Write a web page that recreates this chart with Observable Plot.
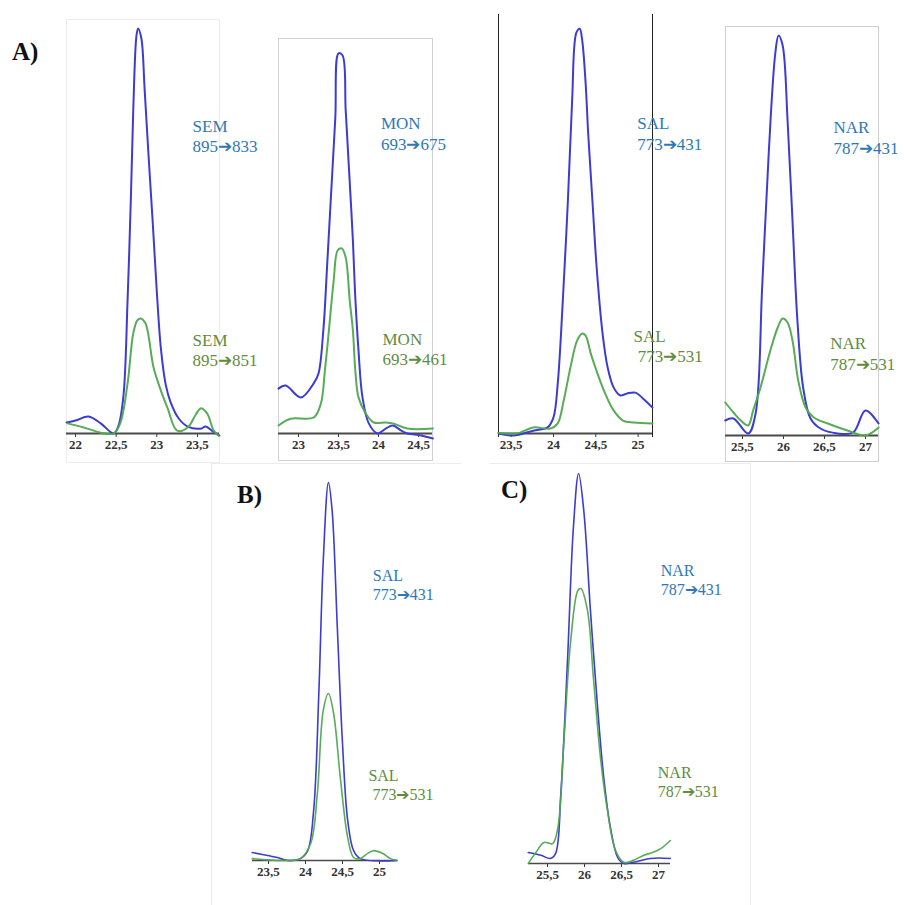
<!DOCTYPE html>
<html>
<head>
<meta charset="utf-8">
<script src="https://cdn.jsdelivr.net/npm/d3@7"></script>
<script src="https://cdn.jsdelivr.net/npm/@observablehq/plot@0.6"></script>
<style>
  html, body { margin: 0; padding: 0; background: #fff; overflow: hidden; }
  #fig { position: relative; width: 904px; height: 905px; background: #fff; }
  .frame { position: absolute; box-sizing: border-box; }
  .tag { position: absolute; font-family: "Liberation Serif", "Times New Roman", serif; font-weight: bold; font-size: 25px; line-height: 1; color: #111; }
  .slot { position: absolute; }
  .slot svg g[aria-label^="x-axis"] text { font-size: 13px !important; font-weight: bold; fill: #333; }
</style>
</head>
<body>
<div id="fig"></div>
<script>
// ---- data: [retention time (min), relative intensity (%)] ----
const semBlue = [[21.89,2.7],[22.00,3.2],[22.16,4.2],[22.31,2.5],[22.47,0],[22.53,2.0],[22.59,9.4],[22.64,32.8],[22.68,57.5],[22.71,79.8],[22.75,98.3],[22.77,100],[22.81,97.5],[22.85,85],[22.90,68],[22.95,52],[23.00,35],[23.05,21],[23.11,12],[23.17,7.7],[23.27,3.7],[23.38,1.7],[23.54,1.2],[23.60,1.7],[23.69,0.5],[23.77,-0.5]];
const semGreen = [[21.90,2.5],[22.10,1.5],[22.31,0.2],[22.47,0],[22.55,2.5],[22.64,12.3],[22.71,24.7],[22.76,27.9],[22.80,28.4],[22.86,27.2],[22.96,16.3],[23.05,10.6],[23.13,6.4],[23.25,0.7],[23.38,1.5],[23.48,4.7],[23.54,6.2],[23.62,4.9],[23.70,0.7],[23.76,-0.5]];
const monBlue = [[22.75,11.8],[22.84,12.6],[23.03,9.5],[23.19,13.2],[23.25,15.8],[23.31,27],[23.36,45],[23.41,64],[23.46,83],[23.50,100],[23.55,99.5],[23.59,85],[23.63,70],[23.68,50.8],[23.71,35.8],[23.75,21.8],[23.80,9.5],[23.88,2.6],[23.99,0],[24.09,1.3],[24.18,2.1],[24.28,0.8],[24.36,0],[24.53,-0.5],[24.68,-1.3]];
const monGreen = [[22.75,2.1],[22.90,3.9],[23.19,4.2],[23.28,7.9],[23.33,16.6],[23.38,27.1],[23.44,40.3],[23.49,48.2],[23.54,48.7],[23.59,46.3],[23.64,35],[23.68,27.1],[23.71,16.6],[23.75,9.5],[23.84,5.3],[23.94,2.9],[24.09,2.9],[24.19,2.6],[24.36,1.3],[24.68,1.3]];
const salBlue = [[23.35,0],[23.53,-0.5],[23.76,0.7],[23.93,1.5],[24.00,4],[24.05,12.3],[24.11,32.8],[24.17,57.5],[24.22,82.2],[24.27,99],[24.31,100],[24.34,97],[24.38,86.4],[24.41,74.1],[24.46,57.5],[24.51,41],[24.58,24.7],[24.64,16.3],[24.71,11.4],[24.79,9.4],[24.87,9.9],[24.97,10.1],[25.06,8.6],[25.17,6.4]];
const salGreen = [[23.35,0.2],[23.57,0],[23.76,1.5],[23.96,1.2],[24.05,2.5],[24.12,8.1],[24.20,16.3],[24.28,23],[24.34,24.7],[24.38,24.2],[24.44,19.8],[24.52,14.8],[24.61,9.9],[24.71,5.7],[24.82,3.2],[24.95,2.7],[25.17,2.5]];
const narBlue = [[25.29,3.75],[25.39,4.25],[25.57,0.5],[25.66,5.5],[25.74,37],[25.82,70.5],[25.90,95.5],[25.94,100],[25.99,97.5],[26.05,78.75],[26.11,53.75],[26.17,28.75],[26.24,12],[26.33,4.25],[26.45,1.75],[26.66,0.5],[26.85,0.75],[27.00,6.25],[27.16,3]];
const narGreen = [[25.29,8.25],[25.39,5.75],[25.48,3.75],[25.57,2.5],[25.63,6.25],[25.72,12],[25.84,21.25],[25.93,27],[25.99,29.25],[26.05,28.25],[26.11,23.75],[26.18,13.75],[26.27,7],[26.37,4.5],[26.54,3],[26.78,1.25],[27.00,0],[27.16,2]];
const bSalBlue = [[23.28,2.1],[23.49,1.3],[23.62,0.8],[23.76,0],[23.93,0.5],[24.03,2.6],[24.11,13.2],[24.18,44.2],[24.24,79.4],[24.31,100],[24.36,92.6],[24.43,61.6],[24.50,31],[24.57,10.6],[24.65,2.6],[24.74,0.5],[25.24,0]];
const bSalGreen = [[23.28,0.5],[23.70,0],[23.93,0.5],[24.07,4.5],[24.16,17.7],[24.24,39.7],[24.31,44.2],[24.38,38.9],[24.47,22],[24.57,6.1],[24.65,0.8],[24.74,0.5],[24.84,1.9],[24.92,2.6],[25.04,1.9],[25.15,0.5],[25.24,0]];
const cNarBlue = [[25.24,2.8],[25.41,2.1],[25.54,1.3],[25.61,2.6],[25.68,17.9],[25.77,52],[25.85,86.2],[25.92,100],[25.99,90.5],[26.08,64.9],[26.18,39.2],[26.26,22],[26.35,9.2],[26.45,1.5],[26.53,0],[26.66,0.3],[26.89,1.3],[27.16,1.3]];
const cNarGreen = [[25.24,0],[25.36,3.3],[25.45,5.4],[25.57,5.1],[25.64,9.2],[25.72,30.8],[25.81,56.4],[25.91,70],[25.95,70.5],[26.04,64.9],[26.12,47.7],[26.22,26.4],[26.31,13.6],[26.42,3.3],[26.53,0.3],[26.66,0.8],[26.80,2.1],[26.92,2.8],[27.03,3.8],[27.16,5.9]];

const compounds = ["SEM", "MON", "SAL", "NAR", "SAL", "NAR"];
const quantTransitions = ["895\u2794833", "693\u2794675", "773\u2794431", "787\u2794431", "773\u2794431", "787\u2794431"];
const qualTransitions = ["895\u2794851", "693\u2794461", "773\u2794531", "787\u2794531", "773\u2794531", "787\u2794531"];
const indentQual = [false, false, true, false, true, false];
// label anchor positions [RT, intensity]
const quantLabelPos = [[23.44,73.5],[24.03,79.1],[24.99,74.2],[26.61,74.6],[24.91,73.1],[27.03,72.8]];
const qualLabelPos = [[23.44,20.7],[24.05,22.4],[24.946,21.7],[26.57,20.6],[24.85,20.1],[26.99,21.0]];
const tickSets = [[22,22.5,23,23.5],[23,23.5,24,24.5],[23.5,24,24.5,25],[25.5,26,26.5,27],[23.5,24,24.5,25],[25.5,26,26.5,27]];
const xDomains = [[21.889,23.771],[22.75,24.675],[23.35,25.17],[25.293,27.159],[23.284,25.243],[25.243,27.162]];
const yMaxes = [102.2, 103.9, 103.5, 102.25, 103.2, 102.05];
const seriesBlue = [semBlue, monBlue, salBlue, narBlue, bSalBlue, cNarBlue];
const seriesGreen = [semGreen, monGreen, salGreen, narGreen, bSalGreen, cNarGreen];

// ---- layout (pixels) ----
const layout = [
  {left: 66,  top: 19,  w: 153, extra: 50, plotH: 414, lw: 2.0, fs: 17, axisW: 2},
  {left: 278, top: 38,  w: 154, extra: 30, plotH: 395, lw: 2.0, fs: 17, axisW: 2},
  {left: 498, top: 14,  w: 154, extra: 60, plotH: 419, lw: 2.0, fs: 17, axisW: 2},
  {left: 725, top: 26,  w: 153, extra: 25, plotH: 409, lw: 2.0, fs: 17, axisW: 2},
  {left: 252, top: 470, w: 145, extra: 50, plotH: 390, lw: 1.6, fs: 16, axisW: 1.6},
  {left: 528, top: 465, w: 142, extra: 60, plotH: 398, lw: 1.6, fs: 16, axisW: 1.6}
];

const fig = document.getElementById("fig");

// panel frames (screenshot borders)
const frames = [
  {left: 66, top: 19, width: 154, height: 444, border: "1px solid #ededed"},
  {left: 278, top: 38, width: 155, height: 423, border: "1px solid #d2d2d2"},
  {left: 498, top: 14, width: 155, height: 423, borderLeft: "1px solid #222", borderRight: "1px solid #222"},
  {left: 725, top: 26, width: 154, height: 436, border: "1px solid #cfcfcf"},
  {left: 211, top: 463, width: 250, height: 442, borderLeft: "1px solid #ececec", borderTop: "1px solid #ececec"},
  {left: 490, top: 463, width: 261, height: 442, borderRight: "1px solid #ececec", borderTop: "1px solid #ececec"}
];
for (const f of frames) {
  const d = document.createElement("div");
  d.className = "frame";
  d.style.left = f.left + "px"; d.style.top = f.top + "px";
  d.style.width = f.width + "px"; d.style.height = f.height + "px";
  if (f.border) d.style.border = f.border;
  if (f.borderLeft) d.style.borderLeft = f.borderLeft;
  if (f.borderRight) d.style.borderRight = f.borderRight;
  if (f.borderTop) d.style.borderTop = f.borderTop;
  fig.appendChild(d);
}

const fmt = d => String(d).replace(".", ",");
const blueLine = "#3c3cd2";
const greenLine = "#4fa84f";
const blueText = "#2f78b8";
const greenText = "#5f8c3e";

for (let i = 0; i < 6; i++) {
  const L = layout[i];
  const mb = 26;
  const labels = [
    {x: quantLabelPos[i][0], y: quantLabelPos[i][1], t: compounds[i] + "\n" + quantTransitions[i], c: blueText},
    {x: qualLabelPos[i][0], y: qualLabelPos[i][1], t: compounds[i] + "\n" + (indentQual[i] ? "\u00a0" : "") + qualTransitions[i], c: greenText}
  ];
  const chart = Plot.plot({
    width: L.w + L.extra,
    height: L.plotH + mb,
    marginLeft: 0, marginRight: L.extra, marginTop: 0, marginBottom: mb,
    x: {domain: xDomains[i], ticks: tickSets[i], tickFormat: fmt, tickSize: 4, tickPadding: 2, label: null},
    y: {domain: [0, yMaxes[i]], axis: null},
    style: {background: "none", overflow: "visible", color: "#333", fontFamily: "'Liberation Serif', 'Times New Roman', serif", fontSize: "13px", fontWeight: "bold"},
    marks: [
      Plot.ruleY([0], {stroke: "#4a4a4a", strokeWidth: L.axisW}),
      Plot.line(seriesBlue[i], {x: d => d[0], y: d => d[1], stroke: blueLine, strokeWidth: L.lw, curve: "catmull-rom"}),
      Plot.line(seriesGreen[i], {x: d => d[0], y: d => d[1], stroke: greenLine, strokeWidth: L.lw, curve: "catmull-rom", strokeOpacity: 0.95}),
      Plot.text(labels, {x: "x", y: "y", text: "t", fill: "c", fontSize: L.fs, fontWeight: "normal", textAnchor: "start", lineAnchor: "middle", lineHeight: 1.2})
    ]
  });
  const slot = document.createElement("div");
  slot.className = "slot";
  slot.style.left = L.left + "px";
  slot.style.top = L.top + "px";
  slot.style.width = (L.w + L.extra) + "px";
  slot.appendChild(chart);
  fig.appendChild(slot);
}

// panel tags
const tags = [["A)", 12, 39], ["B)", 237, 482], ["C)", 501, 477]];
for (const [t, x, y] of tags) {
  const d = document.createElement("div");
  d.className = "tag";
  d.textContent = t;
  d.style.left = x + "px"; d.style.top = y + "px";
  fig.appendChild(d);
}
</script>
</body>
</html>
